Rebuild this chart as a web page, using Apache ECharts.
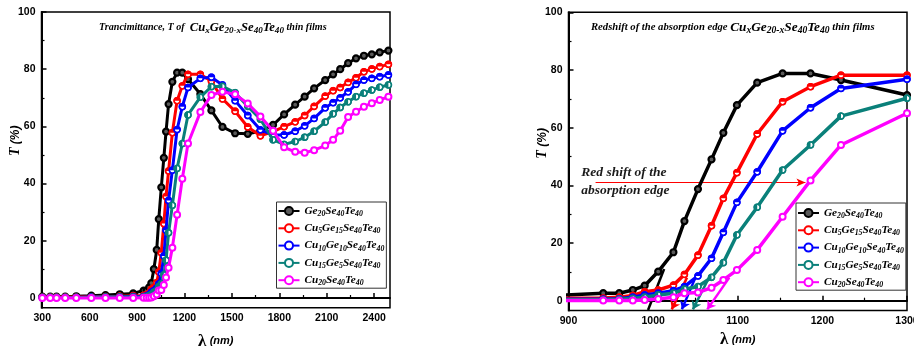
<!DOCTYPE html>
<html><head><meta charset="utf-8">
<script src="https://cdn.jsdelivr.net/npm/echarts@6/dist/echarts.min.js"></script>
<style>html,body{margin:0;padding:0;background:#fff}#c{width:914px;height:352px}</style>
</head><body><div id="c"></div>
<script>
// ---- data ----
const wavelength = [300, 350, 390, 445, 515, 610, 700, 790, 875,
  941, 960, 976, 990, 1006, 1024, 1037, 1053, 1069, 1083, 1099, 1123, 1153, 1186, 1222,
  1300, 1370, 1440, 1520, 1600, 1680, 1760, 1830, 1900, 1960, 2020, 2090, 2140, 2185, 2235, 2285, 2335, 2385, 2435, 2490];
const tGe20 = [0.5, 0.5, 0.5, 0.5, 0.6, 0.8, 1.0, 1.3, 1.6,
  2.6, 2.6, 3.7, 5.2, 10.1, 16.8, 27.6, 38.7, 49, 58.2, 67.8, 75.6, 78.8, 78.8, 76.5,
  71.3, 65.6, 59.8, 57.6, 57.4, 58.3, 60.5, 64.2, 67.6, 70.4, 73.3, 76.2, 78.2, 80, 82.1, 83.8, 84.7, 85.2, 85.9, 86.5];
const tCu5 = [0.3, 0.3, 0.3, 0.3, 0.3, 0.4, 0.5, 0.6, 0.8,
  0.9, 1.2, 1.8, 3.1, 3.7, 5.4, 9.1, 15.8, 26, 35.5, 44.4, 57.8, 69, 74.2, 78.2,
  78.2, 75.8, 69.6, 65.3, 59.8, 56.7, 58.2, 59.9, 61.6, 63.8, 67, 70.6, 72.5, 73.6, 75.4, 77, 79.1, 80.1, 80.9, 81.7];
const tCu10 = [0.2, 0.2, 0.2, 0.2, 0.2, 0.3, 0.3, 0.4, 0.5,
  0.5, 0.7, 1.2, 2, 2.6, 3.5, 4.9, 8.6, 14.7, 23.7, 34.1, 44.7, 58.9, 66.9, 73.6,
  76.8, 77.2, 74.5, 69, 63.8, 58.8, 57, 57, 58.3, 60.2, 62.8, 66.5, 68.3, 70, 72.1, 74.7, 76.2, 76.8, 77.4, 78];
const tCu15 = [0.2, 0.2, 0.2, 0.2, 0.2, 0.2, 0.3, 0.3, 0.3,
  0.3, 0.5, 0.8, 1.2, 2, 2.6, 4, 4.9, 8.1, 13.2, 22.8, 32.4, 45.3, 54, 64,
  70.2, 73.9, 74, 71.8, 67, 62.5, 55.3, 53.7, 54.7, 56.2, 58.3, 61.5, 64.4, 66.6, 68.6, 70.4, 71.6, 72.7, 73.7, 74.5];
const tCu20 = [0, 0, 0, 0, 0, 0, 0, 0, 0,
  0.1, 0.1, 0.1, 0.2, 0.6, 1.2, 2.6, 2.8, 4.5, 7.2, 10.6, 17.6, 29.1, 41.7, 54,
  65, 71, 72.1, 71.2, 68, 63.5, 58.5, 52.7, 51.1, 50.8, 51.7, 53.3, 55.3, 58.5, 63.3, 65.1, 66.9, 68.1, 69.2, 70.4];
const seriesNames = ['Ge20Se40Te40', 'Cu5Ge15Se40Te40', 'Cu10Ge10Se40Te40', 'Cu15Ge5Se40Te40', 'Cu20Se40Te40'];
// extrapolated absorption-edge lines (right panel): start and end points [lambda, T]
const edgeFrom = [[1013, 11], [1040, 8], [1050, 8], [1066, 8], [1090, 8]];
const edgeTo = [[994, -3.2], [1022, -3], [1034, -3], [1047, -3], [1064, -3]];
const shiftArrowFrom = [932, 41];
const shiftArrowTo = [1180, 41];
const shiftTextAt = [914.5, 41.3];
// ticks
const xLabelsLeft = [300, 600, 900, 1200, 1500, 1800, 2100, 2400];
const xMinorLeft = [450, 750, 1050, 1350, 1650, 1950, 2250];
const xLabelsRight = [900, 1000, 1100, 1200, 1300];
const xMinorRight = [950, 1050, 1150, 1250];
const yLabels = [0, 20, 40, 60, 80, 100];
const yMinor = [10, 30, 50, 70, 90];

// ---- styles ----
const SERIF = "'Liberation Serif','Times New Roman',serif";
const SANS = "'Liberation Sans',Arial,sans-serif";
const colors = ['#000000', '#ff0000', '#0000ff', '#0a807a', '#ff00ff'];
const fills = ['#5a5a5a', '#ffffff', '#ffffff', '#ffffff', '#ffffff'];
const borderW = [2.2, 1.3, 1.3, 1.3, 2];

function arcPts(r, a0, a1, n) {
  const out = [];
  for (let k = 0; k <= n; k++) {
    const a = a0 + (a1 - a0) * k / n;
    out.push((10 + r * Math.cos(a)).toFixed(3) + ',' + (10 + r * Math.sin(a)).toFixed(3));
  }
  return out;
}
function poly(pts) { return 'M' + pts[0] + pts.slice(1).map(p => 'L' + p).join('') + 'Z'; }
const RING = poly(arcPts(10, 0, 2 * Math.PI, 40)) + poly(arcPts(6, 2 * Math.PI, 0, 40));
const TOPHALF = 'path://' + RING + poly(arcPts(6, Math.PI, 2 * Math.PI, 20));
const LEFTHALF = 'path://' + RING + poly(arcPts(6, Math.PI / 2, 3 * Math.PI / 2, 20));
const overlay = [null, TOPHALF, TOPHALF, LEFTHALF, null];
const allT = [tGe20, tCu5, tCu10, tCu15, tCu20];

function pairs(ys) { return wavelength.map((x, i) => [x, ys[i]]); }
function chem(name) { return name.replace(/([A-Z][a-z]?)(\d+)/g, '{m|$1}{s|$2}'); }

const richChem = {
  m: {fontFamily: SERIF, fontStyle: 'italic', fontWeight: 'bold', fontSize: 11.2, lineHeight: 14, color: '#000'},
  s: {fontFamily: SERIF, fontStyle: 'italic', fontWeight: 'bold', fontSize: 7.8, lineHeight: 8, padding: [6, 0, 0, 0], color: '#000'}
};
function richTitle(k) {
  return {
    a: {fontFamily: SERIF, fontStyle: 'italic', fontWeight: 'bold', fontSize: 10 * k, lineHeight: 16, color: '#000'},
    b: {fontFamily: SERIF, fontStyle: 'italic', fontWeight: 'bold', fontSize: 12.5 * k, lineHeight: 16, color: '#000'},
    s: {fontFamily: SERIF, fontStyle: 'italic', fontWeight: 'bold', fontSize: 9 * k, lineHeight: 9, padding: [7, 0, 0, 0], color: '#000'}
  };
}
const formula = '{b|Cu}{s|x}{b|Ge}{s|20-x}{b|Se}{s|40}{b|Te}{s|40}';
const plain = v => String(v);

function xAxes(grid, min, max, labels, minor, nameGap) {
  return [{
    gridIndex: grid, type: 'value', min: min, max: max, position: 'bottom',
    name: '{l|λ} {n|(nm)}', nameLocation: 'middle', nameGap: nameGap, nameMoveOverlap: false,
    nameTextStyle: {rich: {
      l: {fontFamily: SERIF, fontWeight: 'bold', fontSize: 17, color: '#000'},
      n: {fontFamily: SANS, fontStyle: 'italic', fontWeight: 'bold', fontSize: 11, color: '#000'}}},
    axisLine: {show: true, lineStyle: {color: '#000', width: 2}},
    axisTick: {show: true, inside: true, length: 5, customValues: labels, lineStyle: {color: '#000', width: 1.5}},
    axisLabel: {customValues: labels, formatter: plain, fontFamily: SANS, fontWeight: 'bold', fontSize: 10.5, color: '#000', margin: 5},
    splitLine: {show: false}
  }, {
    gridIndex: grid, type: 'value', min: min, max: max, position: 'bottom',
    axisLine: {show: false},
    axisTick: {show: true, inside: true, length: 3, customValues: minor, lineStyle: {color: '#000', width: 1.2}},
    axisLabel: {show: false}, splitLine: {show: false}
  }];
}
function yAxes(grid, padShift) {
  return [{
    gridIndex: grid, type: 'value', min: -3.4, max: 100, position: 'left',
    name: '{t|T} {p|(%)}', nameLocation: 'middle', nameGap: 19, nameMoveOverlap: false,
    nameTextStyle: {padding: [0, 0, 0, padShift], rich: {
      t: {fontFamily: SERIF, fontStyle: 'italic', fontWeight: 'bold', fontSize: 14, color: '#000'},
      p: {fontFamily: SANS, fontStyle: 'italic', fontWeight: 'bold', fontSize: 12, color: '#000'}}},
    axisLine: {show: true, lineStyle: {color: '#000', width: 2}},
    axisTick: {show: true, inside: true, length: 5, customValues: yLabels, lineStyle: {color: '#000', width: 1.5}},
    axisLabel: {customValues: yLabels, formatter: plain, fontFamily: SANS, fontWeight: 'bold', fontSize: 10.5, color: '#000', margin: 6},
    splitLine: {show: false}
  }, {
    gridIndex: grid, type: 'value', min: -3.4, max: 100, position: 'left',
    axisLine: {show: false},
    axisTick: {show: true, inside: true, length: 3, customValues: yMinor, lineStyle: {color: '#000', width: 1.2}},
    axisLabel: {show: false}, splitLine: {show: false}
  }];
}

const series = [];
[0, 1].forEach(g => {
  allT.forEach((ys, i) => {
    const col = colors[i];
    const s = {
      type: 'line', name: seriesNames[i], xAxisIndex: g * 2, yAxisIndex: g * 2,
      data: pairs(ys), symbol: 'circle', symbolSize: 6, showSymbol: true,
      lineStyle: {color: col, width: g ? 3.5 : 3},
      itemStyle: {color: fills[i], borderColor: col, borderWidth: borderW[i]},
      clip: true, silent: true, animation: false, z: 10 + i * 2,
      emphasis: {disabled: true}
    };
    if (g === 1) {
      const ml = [[{coord: edgeFrom[i], symbol: 'none'}, {coord: edgeTo[i], symbol: i === 0 ? 'none' : 'arrow', symbolSize: 8}]];
      if (i === 1) {
        ml.push([{coord: shiftArrowFrom, symbol: 'none', lineStyle: {color: '#ff0000', width: 1}},
                 {coord: shiftArrowTo, symbol: 'arrow', symbolSize: [6, 9], lineStyle: {color: '#ff0000', width: 1}}]);
      }
      s.markLine = {silent: true, animation: false, label: {show: false},
        lineStyle: {color: col, width: 2.5, type: 'solid'}, data: ml, emphasis: {disabled: true}};
      if (i === 0) {
        s.markPoint = {silent: true, animation: false, data: [{
          coord: shiftTextAt, symbol: 'circle', symbolSize: 1, itemStyle: {color: 'rgba(0,0,0,0)'},
          label: {show: true, position: 'right', distance: 0, align: 'left', verticalAlign: 'middle',
            formatter: 'Red shift of the\nabsorption edge', fontFamily: SERIF, fontStyle: 'italic',
            fontWeight: 'bold', fontSize: 13.5, lineHeight: 18.5, color: '#1a1a1a'}
        }]};
      }
    }
    series.push(s);
    if (overlay[i]) {
      series.push({
        type: 'scatter', name: '_ov' + g + i, xAxisIndex: g * 2, yAxisIndex: g * 2,
        data: pairs(ys), symbol: overlay[i], symbolSize: 7.6,
        itemStyle: {color: col, opacity: 1}, silent: true, animation: false, clip: true,
        z: 11 + i * 2, emphasis: {disabled: true}
      });
    }
  });
});

function legendAt(left, top, padTop) {
  return {
    data: seriesNames, left: left, top: top, orient: 'vertical', align: 'left',
    itemWidth: 21, itemHeight: 10, itemGap: 3.3, selectedMode: false,
    padding: [padTop, 2, 1, 1], borderColor: '#333', borderWidth: 1, backgroundColor: '#fff',
    formatter: chem, textStyle: {rich: richChem}
  };
}

const option = {
  animation: false,
  backgroundColor: '#fff',
  title: [
    {text: '{a|Trancimittance, T of  }' + formula + '{a| thin films}', left: 99, top: 19.5, padding: 0, textStyle: {rich: richTitle(1.01)}},
    {text: '{a|Redshift of the absorption edge }' + formula + '{a| thin films}', left: 591, top: 19.5, padding: 0, textStyle: {rich: richTitle(1.065)}}
  ],
  legend: [legendAt(276.5, 202, 2), legendAt(796, 203, 3)],
  grid: [
    {left: 41.5, right: 524, top: 12, bottom: 44.3, show: true, borderColor: '#000', borderWidth: 1.5, outerBoundsMode: 'none'},
    {left: 568.5, right: 7, top: 12.3, bottom: 41.5, show: true, borderColor: '#000', borderWidth: 1.5, outerBoundsMode: 'none'}
  ],
  xAxis: [...xAxes(0, 295, 2500, xLabelsLeft, xMinorLeft, 25), ...xAxes(1, 900, 1300, xLabelsRight, xMinorRight, 21)],
  yAxis: [...yAxes(0, 38), ...yAxes(1, 36)],
  series: series
};
const chart = echarts.init(document.getElementById('c'), null, {renderer: 'canvas'});
chart.setOption(option);
</script></body></html>
